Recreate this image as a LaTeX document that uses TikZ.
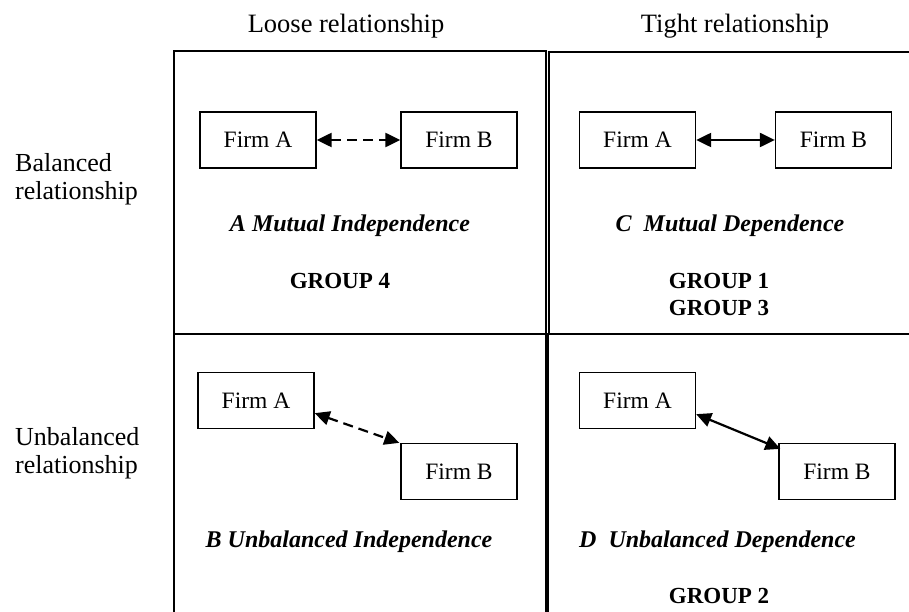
\documentclass[tikz,border=0pt]{standalone}
\usepackage{fontspec}
\setmainfont{Liberation Serif}
\usetikzlibrary{arrows.meta,calc}
\begin{document}
\begin{tikzpicture}[x=1pt,y=-1pt,
  firm/.style={draw,line width=1.3pt,minimum width=116pt,minimum height=56pt,inner sep=0pt,font=\fontsize{23.5}{26}\selectfont},
  frame/.style={line width=2pt},
  link/.style={line width=2.2pt,{Triangle[length=15pt,width=14pt]}-{Triangle[length=15pt,width=14pt]}},
  dashlink/.style={link,dash pattern=on 10pt off 6pt},
  lab/.style={font=\fontsize{24}{28}\selectfont\bfseries\itshape,anchor=base,inner sep=0pt},
  grp/.style={font=\fontsize{23}{27}\selectfont\bfseries,anchor=base,inner sep=0pt},
  head/.style={font=\fontsize{26.5}{28}\selectfont,anchor=base,inner sep=0pt},
  rowlab/.style={font=\fontsize{26}{28}\selectfont,anchor=base west,inner sep=0pt,align=left}]
\useasboundingbox (0,0) rectangle (909,612);
\clip (0,0) rectangle (909,612);
% frames
\draw[frame] (174,51) rectangle (546,334);
\draw[frame] (548.5,52) rectangle (915,334);
\draw[frame] (174,334) rectangle (546,620);
\draw[frame] (547.5,334) rectangle (915,620);
% headers
\node[head] (hl) at (346,33) {Loose relationship};
\node[head] (ht) at (735,33) {Tight relationship};
\node[rowlab] (rb) at (15,200) {Balanced\\relationship};
\node[rowlab] (ru) at (15,473) {Unbalanced\\relationship};
% quadrant A
\node[firm] (a1) at (258,140) {Firm A};
\node[firm] (b1) at (459,140) {Firm B};
\draw[dashlink] (a1) -- (b1);
\node[lab] (la) at (350,231) {A Mutual Independence};
\node[grp] (g4) at (340,288) {GROUP 4};
% quadrant C
\node[firm] (a2) at (637.5,140) {Firm A};
\node[firm] (b2) at (833.5,140) {Firm B};
\draw[link] (a2) -- (b2);
\node[lab] (lc) at (730,231) {C\ \ Mutual Dependence};
\node[grp] (g1) at (719,288) {GROUP 1};
\node[grp] (g3) at (719,315) {GROUP 3};
% quadrant B
\node[firm] (a3) at (256,400.5) {Firm A};
\node[firm] (b3) at (459,471.5) {Firm B};
\coordinate (a3p) at ([yshift=16pt]a3.south east);
\coordinate (b3p) at ([xshift=-1pt]b3.north west);
\draw[dashlink] (a3p) -- (b3p);
\node[lab] (lb) at (349,547) {B Unbalanced Independence};
% quadrant D
\node[firm] (a4) at (637.5,400.5) {Firm A};
\node[firm] (b4) at (837,471.5) {Firm B};
\coordinate (a4p) at ([yshift=15pt]a4.south east);
\coordinate (b4p) at ([xshift=2pt,yshift=-6pt]b4.north west);
\draw[link] (a4p) -- (b4p);
\node[lab] (ld) at (717.5,547) {D\ \ Unbalanced Dependence};
\node[grp] (g2) at (719,603) {GROUP 2};
\end{tikzpicture}
\end{document}
